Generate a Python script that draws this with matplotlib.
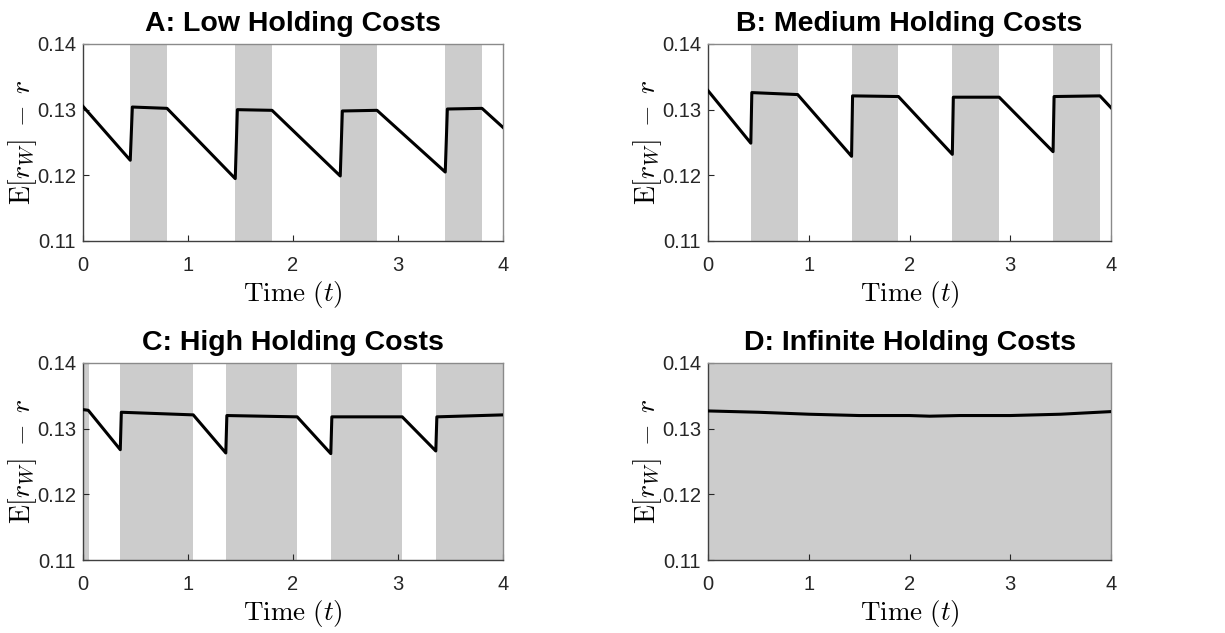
import numpy as np
import matplotlib
matplotlib.use("Agg")
import matplotlib.pyplot as plt

plt.rcParams['font.family'] = ['Liberation Sans', 'DejaVu Sans']
plt.rcParams['mathtext.fontset'] = 'cm'

# values
titles = ["A: Low Holding Costs", "B: Medium Holding Costs",
          "C: High Holding Costs", "D: Infinite Holding Costs"]

t_A = [0, 0.45, 0.47, 0.80, 1.45, 1.47, 1.80, 2.45, 2.47, 2.80, 3.45, 3.47, 3.80, 4.0]
y_A = [0.1305, 0.1223, 0.1304, 0.1302, 0.1195, 0.1300, 0.1299, 0.1199, 0.1298,
       0.1299, 0.1205, 0.1301, 0.1302, 0.1273]

t_B = [0, 0.425, 0.435, 0.89, 1.425, 1.435, 1.89, 2.425, 2.435, 2.89, 3.425, 3.435, 3.89, 4.0]
y_B = [0.1329, 0.1249, 0.1326, 0.1323, 0.1229, 0.1321, 0.1320, 0.1232, 0.1319,
       0.1319, 0.1236, 0.1320, 0.1321, 0.1303]

t_C = [0, 0.05, 0.355, 0.365, 1.05, 1.36, 1.37, 2.04, 2.36, 2.37, 3.04, 3.36, 3.37, 4.0]
y_C = [0.1329, 0.1328, 0.1268, 0.1325, 0.1321, 0.1263, 0.1320, 0.1318, 0.1262,
       0.1318, 0.1318, 0.1266, 0.1318, 0.1321]

t_D = [0, 0.5, 1.0, 1.5, 2.0, 2.2, 2.5, 3.0, 3.5, 4.0]
y_D = [0.1327, 0.1325, 0.1322, 0.1320, 0.1320, 0.1319, 0.1320, 0.1320, 0.1322, 0.1326]

shade_A = [(0.45, 0.80), (1.45, 1.80), (2.45, 2.80), (3.45, 3.80)]
shade_B = [(0.425, 0.89), (1.425, 1.89), (2.425, 2.89), (3.425, 3.89)]
shade_C = [(0, 0.055), (0.355, 1.05), (1.36, 2.04), (2.36, 3.04), (3.36, 4.0)]
shade_D = [(0, 4)]

series = [(t_A, y_A, shade_A), (t_B, y_B, shade_B),
          (t_C, y_C, shade_C), (t_D, y_D, shade_D)]

fig = plt.figure(figsize=(12.25, 6.33), dpi=100)

# axes boxes in pixels (left, top, right, bottom)
W, H = 1225, 633
boxes = [(83, 44, 503, 241), (708, 44, 1111, 241),
         (83, 363, 503, 560), (708, 363, 1111, 560)]

for i in range(4):
    l, t, r, b = boxes[i]
    ax = fig.add_axes([l/W, 1 - b/H, (r-l)/W, (b-t)/H])
    tt, yy, sh = series[i]
    for s in sh:
        ax.axvspan(s[0], s[1], color='#cccccc', lw=0, zorder=1)
    ax.plot(tt, yy, color='k', lw=2.2, zorder=3)
    ax.set_xlim(0, 4)
    ax.set_ylim(0.11, 0.14)
    ax.set_xticks([0, 1, 2, 3, 4])
    ax.set_yticks([0.11, 0.12, 0.13, 0.14])
    ax.set_yticklabels(["0.11", "0.12", "0.13", "0.14"])
    ax.tick_params(direction='in', length=4, width=0.8, labelsize=14.5,
                   colors='#262626')
    ax.tick_params(axis='x', pad=11)
    ax.tick_params(axis='y', pad=5)
    for k in ['left', 'bottom']:
        ax.spines[k].set_color('#404040')
        ax.spines[k].set_linewidth(1.0)
    for k in ['top', 'right']:
        ax.spines[k].set_color('#8a8a8a')
        ax.spines[k].set_linewidth(1.0)
    ax.set_title(titles[i], fontsize=20.5, fontweight='bold', pad=9)
    ax.set_xlabel(r'$\mathrm{Time}\ (t)$', fontsize=19.5, labelpad=3)
    ax.set_ylabel(r'$\mathrm{E}[r_W]\;-\;r$', fontsize=20)
    ax.yaxis.set_label_coords(-44.0/(r-l), 0.5)

plt.savefig("out.png", dpi=100)
